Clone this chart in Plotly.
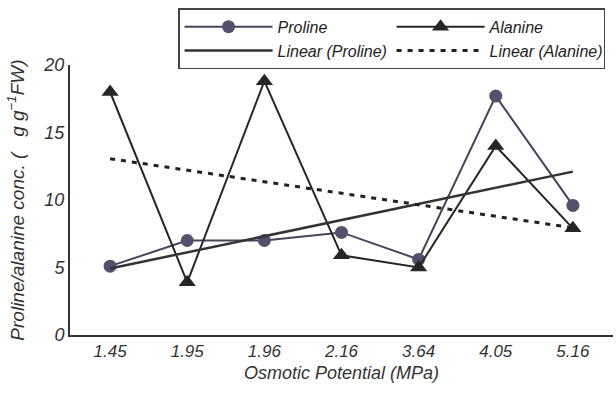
import numpy as np
import plotly.graph_objects as go

categories = ["1.45", "1.95", "1.96", "2.16", "3.64", "4.05", "5.16"]
proline = [5.1, 7.0, 7.0, 7.6, 5.6, 17.7, 9.6]
alanine = [18.0, 3.9, 18.8, 5.9, 5.0, 14.0, 7.9]
y_ticks = [0, 5, 10, 15, 20]

FONT = "Liberation Sans, Arial, sans-serif"
PRO_C = "#55506c"
ALA_C = "#262626"

idx = np.arange(1, len(categories) + 1)
def trend(vals):
    m, b = np.polyfit(idx, vals, 1)
    return list(m * idx + b)

fig = go.Figure()
fig.add_trace(go.Scatter(x=categories, y=proline, name="Proline", mode="lines+markers",
                         line=dict(color="#48445c", width=2),
                         marker=dict(symbol="circle", size=13, color=PRO_C)))
fig.add_trace(go.Scatter(x=categories, y=alanine, name="Alanine", mode="lines+markers",
                         line=dict(color=ALA_C, width=2),
                         marker=dict(symbol="triangle-up", size=15, color=ALA_C)))
fig.add_trace(go.Scatter(x=categories, y=trend(proline), name="Linear (Proline)", mode="lines",
                         line=dict(color="#333333", width=2.5)))
fig.add_trace(go.Scatter(x=categories, y=trend(alanine), name="Linear (Alanine)", mode="lines",
                         line=dict(color="#222222", width=3, dash="5px,6px")))

fig.update_layout(
    width=616, height=393,
    margin=dict(l=70, r=3, t=65, b=58, autoexpand=False),
    paper_bgcolor="white", plot_bgcolor="white",
    font=dict(family=FONT, color="#333333"),
    showlegend=True,
    legend=dict(orientation="h", x=0.199, y=1.21, xanchor="left", yanchor="top",
                entrywidth=109, entrywidthmode="pixels", itemwidth=88,
                bordercolor="#444444", borderwidth=1.5, bgcolor="white",
                font=dict(family=FONT, size=16, color="#222222", style="italic"),
                tracegroupgap=0, traceorder="normal"),
    xaxis=dict(type="category", range=[-0.52, 6.52], showgrid=False, zeroline=False,
               showline=True, linecolor="#333333", linewidth=2, ticks="", automargin=False,
               tickfont=dict(size=17, style="italic", color="#333333"),
               title=dict(text="Osmotic Potential (MPa)", standoff=6,
                          font=dict(size=18, style="italic", color="#333333"))),
    yaxis=dict(range=[0, 20], tickvals=y_ticks, showgrid=False, zeroline=False,
               showline=True, linecolor="#333333", linewidth=2, ticks="", automargin=False,
               tickfont=dict(size=18, style="italic", color="#333333"),
               title=dict(text="Proline/alanine conc. (   g g<sup>\u22121</sup>FW)", standoff=14,
                          font=dict(size=19, style="italic", color="#333333"))),
)

fig.write_html("out.html", config={"displayModeBar": False},
               post_script="document.body.style.margin='0';document.body.style.padding='0';")
